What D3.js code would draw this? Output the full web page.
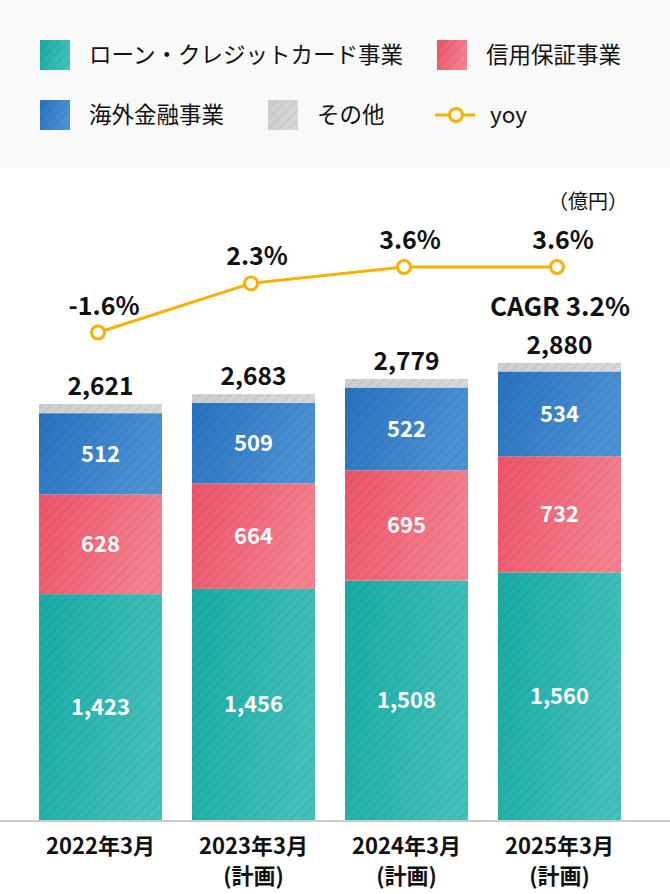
<!DOCTYPE html>
<html><head><meta charset="utf-8">
<script src="https://cdn.jsdelivr.net/npm/d3@7"></script>
<style>
html,body{margin:0;padding:0;background:#fff;}
svg{display:block;font-family:"Noto Sans CJK JP","Noto Sans",sans-serif;}
</style></head><body>
<svg id="chart" width="670" height="894"></svg>
<script>
const years = ["2022年3月","2023年3月","2024年3月","2025年3月"];
const subLabels = ["","(計画)","(計画)","(計画)"];
const seriesNames = ["ローン・クレジットカード事業","信用保証事業","海外金融事業","その他"];
const loan = [1423,1456,1508,1560];
const guarantee = [628,664,695,732];
const overseas = [512,509,522,534];
const totals = [2621,2683,2779,2880];
const other = totals.map((t,i)=>t-loan[i]-guarantee[i]-overseas[i]);
const yoy = [-1.6,2.3,3.6,3.6];
const yoyLabels = ["-1.6%","2.3%","3.6%","3.6%"];
const cagrLabel = "CAGR 3.2%";
const unitLabel = "（億円）";

const colorsL = ["#17aca5","#ee5369","#2772c0","#cdcdcd"];
const colorsR = ["#42c0ba","#f5818f","#4c92d4","#d8d8d8"];
const lineColor = "#f8b100";

const svg = d3.select("#chart");
const defs = svg.append("defs");
seriesNames.forEach((n,i)=>{
  const g = defs.append("linearGradient").attr("id","g"+i).attr("x1","0").attr("y1","0").attr("x2","1").attr("y2","0.3");
  g.append("stop").attr("offset","0").attr("stop-color",colorsL[i]);
  g.append("stop").attr("offset","1").attr("stop-color",colorsR[i]);
});
const pat = defs.append("pattern").attr("id","stripes").attr("patternUnits","userSpaceOnUse")
  .attr("width",7).attr("height",7).attr("patternTransform","rotate(45)");
pat.append("rect").attr("x",0).attr("y",0).attr("width",2).attr("height",7).attr("fill","rgba(0,0,0,0.05)");

// legend background
svg.append("rect").attr("x",0).attr("y",0).attr("width",670).attr("height",168).attr("fill","#f9f9f9");

const legendItems = [
  {i:0,x:40,y:40,tx:89},
  {i:1,x:437,y:40,tx:486},
  {i:2,x:40,y:100,tx:89},
  {i:3,x:268,y:100,tx:317}
];
const lg = svg.append("g");
legendItems.forEach(d=>{
  lg.append("rect").attr("x",d.x).attr("y",d.y).attr("width",30).attr("height",30).attr("fill",`url(#g${d.i})`);
  lg.append("rect").attr("x",d.x).attr("y",d.y).attr("width",30).attr("height",30).attr("fill","url(#stripes)");
  lg.append("text").attr("x",d.tx).attr("y",d.y+15).attr("dy","0.36em").attr("font-size",22.5).attr("fill","#111").text(seriesNames[d.i]);
});
lg.append("line").attr("x1",435).attr("x2",475).attr("y1",115).attr("y2",115).attr("stroke",lineColor).attr("stroke-width",3);
lg.append("circle").attr("cx",456).attr("cy",115).attr("r",6.5).attr("fill","#fff").attr("stroke",lineColor).attr("stroke-width",3);
lg.append("text").attr("x",490).attr("y",115).attr("dy","0.36em").attr("font-size",22.5).attr("fill","#111").text("yoy");

// scales
const x = d3.scaleBand().domain(years).range([39,621]).paddingInner(0.196).paddingOuter(0);
const y = d3.scaleLinear().domain([0,2621]).range([820,404]);
const yL = d3.scaleLinear().domain([-1.6,3.6]).range([332.5,267]);

const data = years.map((yr,i)=>({yr, vals:[loan[i],guarantee[i],overseas[i],other[i]]}));
const stack = d3.stack().keys([0,1,2,3]).value((d,k)=>d.vals[k]);
const stacked = stack(data);

const bars = svg.append("g");
stacked.forEach((layer,k)=>{
  layer.forEach((s,i)=>{
    const bx = x(years[i]), by = y(s[1]), bh = y(s[0])-y(s[1]);
    bars.append("rect").attr("x",bx).attr("y",by).attr("width",x.bandwidth()).attr("height",bh).attr("fill",`url(#g${k})`);
    bars.append("rect").attr("x",bx).attr("y",by).attr("width",x.bandwidth()).attr("height",bh).attr("fill","url(#stripes)");
    if(k<3){
      bars.append("text").attr("x",bx+x.bandwidth()/2).attr("y",(y(s[0])+y(s[1]))/2).attr("dy","0.36em")
        .attr("text-anchor","middle").attr("font-size",22).attr("font-weight",700).attr("fill","#fff")
        .text(d3.format(",")(s[1]-s[0]));
    }
  });
});

// baseline
svg.append("line").attr("x1",0).attr("x2",670).attr("y1",821).attr("y2",821).attr("stroke","#cccccc").attr("stroke-width",2);

// totals
svg.append("g").selectAll("text").data(totals).join("text")
  .attr("x",(d,i)=>x(years[i])+x.bandwidth()/2).attr("y",(d)=>y(d)-18).attr("dy","0.36em")
  .attr("text-anchor","middle").attr("font-size",24.5).attr("font-weight",700).attr("fill","#111")
  .text(d=>d3.format(",")(d));

// x labels
const xl = svg.append("g");
years.forEach((yr,i)=>{
  const cx = x(yr)+x.bandwidth()/2;
  xl.append("text").attr("x",cx).attr("y",846).attr("dy","0.36em").attr("text-anchor","middle")
    .attr("font-size",22).attr("font-weight",700).attr("fill","#111").text(yr);
  if(subLabels[i]) xl.append("text").attr("x",cx).attr("y",876).attr("dy","0.36em").attr("text-anchor","middle")
    .attr("font-size",22).attr("font-weight",700).attr("fill","#111").text(subLabels[i]);
});

// line
const px = i => x(years[i])+x.bandwidth()/2-2.5;
const line = d3.line().x((d,i)=>px(i)).y(d=>yL(d));
svg.append("path").datum(yoy).attr("d",line).attr("fill","none").attr("stroke",lineColor).attr("stroke-width",3);
svg.append("g").selectAll("circle").data(yoy).join("circle")
  .attr("cx",(d,i)=>px(i)).attr("cy",d=>yL(d)).attr("r",6.5).attr("fill","#fff").attr("stroke",lineColor).attr("stroke-width",3);
svg.append("g").selectAll("text").data(yoy).join("text")
  .attr("x",(d,i)=>px(i)+6).attr("y",d=>yL(d)-27).attr("dy","0.36em").attr("text-anchor","middle")
  .attr("font-size",25).attr("font-weight",700).attr("fill","#111").text((d,i)=>yoyLabels[i]);

svg.append("text").attr("x",560).attr("y",307).attr("dy","0.36em").attr("text-anchor","middle")
  .attr("font-size",26).attr("font-weight",700).attr("fill","#111").text(cagrLabel);
svg.append("text").attr("x",588).attr("y",202).attr("dy","0.36em").attr("text-anchor","middle")
  .attr("font-size",20).attr("fill","#111").text(unitLabel);
</script>
</body></html>
